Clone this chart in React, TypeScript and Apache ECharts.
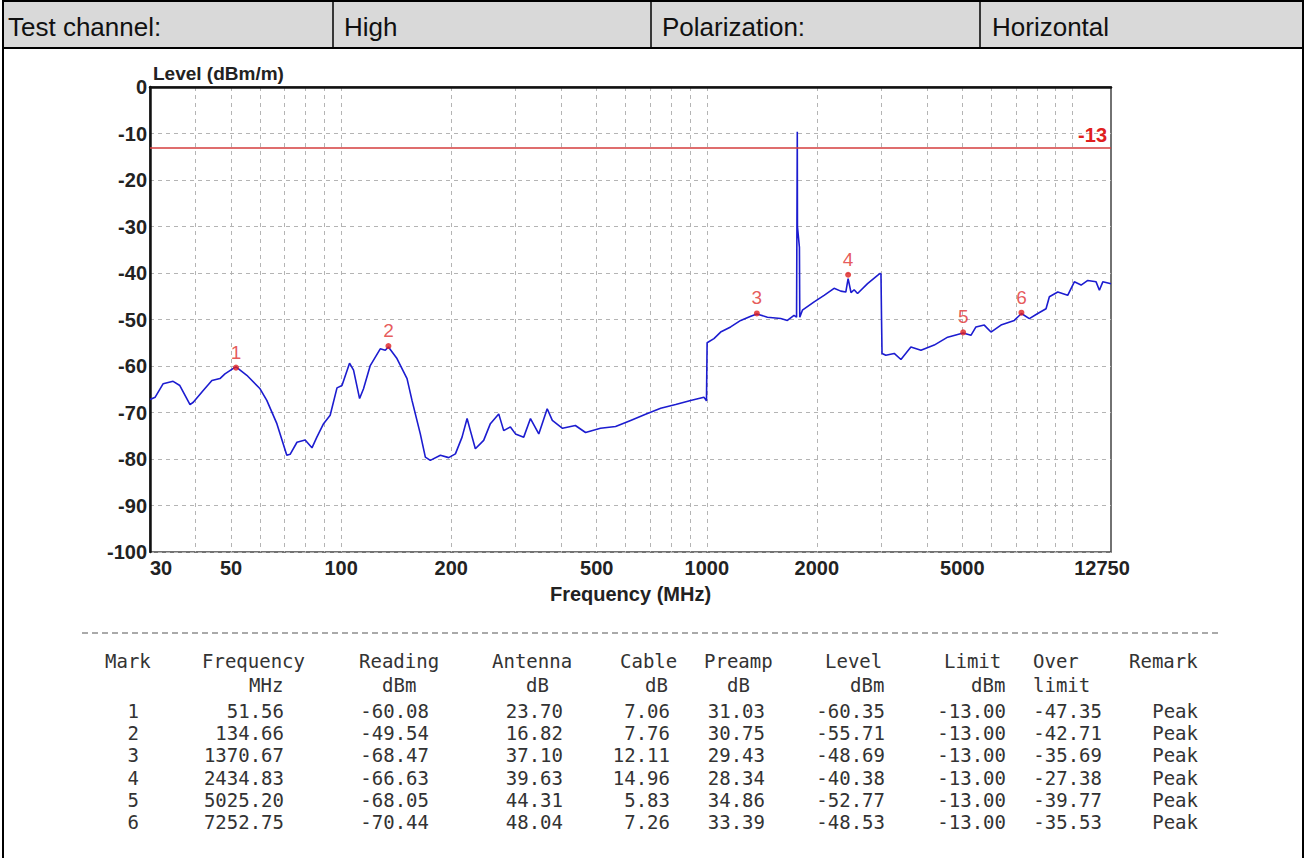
import React, { useEffect, useRef } from 'react';
import * as echarts from 'echarts';

// ---- data ----
const freqMHz = [
  30.0, 31.0, 32.6, 34.7, 36.2, 38.6, 39.4, 42.0, 44.3, 46.6, 48.1, 50.7, 51.56, 55.2, 60.0, 62.6, 66.7, 71.0,
  72.5, 75.7, 79.7, 83.2, 85.8, 89.5, 93.3, 97.4, 100.5, 105.4, 108.1, 112.3, 115.1, 120.1, 127.9, 132.0,
  134.66, 142.1, 151.4, 156.2, 164.6, 169.9, 175.3, 186.8, 196.8, 205.3, 214.1, 221.0, 225.6, 232.8, 245.3,
  255.9, 269.7, 278.3, 290.3, 299.7, 315.7, 329.4, 347.1, 366.0, 378, 403, 437, 466, 512, 563, 619, 680, 748,
  822, 903, 982, 998, 1002, 1046, 1091, 1162, 1238, 1319, 1370.67, 1465, 1593, 1661, 1732, 1760, 1768, 1770,
  1792, 1796, 1826, 1966, 2093, 2229, 2325, 2400, 2434.83, 2480, 2529, 2584, 2752, 2931, 2979, 2995, 3005,
  3015, 3088, 3255, 3396, 3616, 3852, 4188, 4558, 5025.2, 5277, 5447, 5739, 5987, 6376, 6934, 7252.75, 7624,
  8038, 8469, 8649, 9120, 9707, 10122, 10561, 11016, 11607, 11852, 12108, 12750,
];
const levelDbm = [
  -67.2, -66.7, -63.8, -63.3, -64.2, -68.3, -67.8, -65.2, -63.1, -62.7, -61.7, -60.5, -60.2, -62.0, -64.9,
  -67.4, -72.4, -79.2, -79.0, -76.4, -75.9, -77.6, -75.3, -72.4, -70.6, -64.7, -64.2, -59.4, -60.9, -67.0,
  -64.9, -59.9, -56.3, -56.6, -55.9, -58.4, -62.7, -67.4, -74.6, -79.6, -80.3, -79.2, -79.7, -78.9, -75.3,
  -71.3, -73.9, -77.8, -76.0, -72.4, -70.3, -73.9, -73.1, -74.6, -75.3, -71.3, -74.6, -69.2, -71.7, -73.4,
  -72.8, -74.3, -73.4, -73.0, -71.7, -70.4, -69.1, -68.3, -67.4, -66.7, -67.5, -55.0, -54.1, -52.7, -51.6,
  -50.2, -49.3, -48.8, -49.5, -49.8, -50.2, -49.1, -49.5, -9.6, -30.0, -34.5, -49.5, -48.0, -46.2, -44.8,
  -43.3, -43.9, -44.1, -41.2, -44.2, -43.6, -44.4, -42.3, -40.5, -40.1, -40.2, -49.5, -57.3, -57.7, -57.3,
  -58.6, -55.9, -56.6, -55.5, -53.8, -52.9, -53.4, -51.6, -51.2, -52.7, -51.2, -50.2, -48.7, -49.8, -48.7,
  -47.7, -45.1, -44.1, -44.8, -41.9, -42.6, -41.6, -41.9, -43.7, -41.9, -42.3,
];
const markFreq = [51.56, 134.66, 1370.67, 2434.83, 5025.2, 7252.75];
const markLevel = [-60.35, -55.71, -48.69, -40.38, -52.77, -48.53];
const limitDbm = -13;
const freqMin = 30;
const freqMax = 12750;
const xLabelValues = [30, 50, 100, 200, 500, 1000, 2000, 5000, 12750];
const xGridValues = [
  40, 50, 60, 70, 80, 90, 100, 200, 300, 400, 500, 600, 700, 800, 900, 1000, 2000, 3000, 4000, 5000, 6000,
  7000, 8000, 9000, 10000,
];
const yMin = -100;
const yMax = 0;
const yStep = 10;

const headerCells = ['Test channel:', 'High', 'Polarization:', 'Horizontal'];
const tableHead = ['Mark', 'Frequency', 'Reading', 'Antenna', 'Cable', 'Preamp', 'Level', 'Limit', 'Over', 'Remark'];
const tableUnits = ['', 'MHz', 'dBm', 'dB', 'dB', 'dB', 'dBm', 'dBm', 'limit', ''];
const tableRows = [
  ['1', '51.56', '-60.08', '23.70', '7.06', '31.03', '-60.35', '-13.00', '-47.35', 'Peak'],
  ['2', '134.66', '-49.54', '16.82', '7.76', '30.75', '-55.71', '-13.00', '-42.71', 'Peak'],
  ['3', '1370.67', '-68.47', '37.10', '12.11', '29.43', '-48.69', '-13.00', '-35.69', 'Peak'],
  ['4', '2434.83', '-66.63', '39.63', '14.96', '28.34', '-40.38', '-13.00', '-27.38', 'Peak'],
  ['5', '5025.20', '-68.05', '44.31', '5.83', '34.86', '-52.77', '-13.00', '-39.77', 'Peak'],
  ['6', '7252.75', '-70.44', '48.04', '7.26', '33.39', '-48.53', '-13.00', '-35.53', 'Peak'],
];

// ---- layout (positions / styles) ----
const W = 1306;
const H = 858;
const headerLeft = [8, 344, 662, 992];
const headerDividers = [333, 651, 980];
const headLeft = [105, 202, 359, 492, 620, 704, 825, 944, 1033, 1129];
const unitLeft = [0, 249, 382, 526, 645, 727, 850, 971, 1033, 0];
const dataRight = [139, 284, 429, 563, 670, 765, 885, 1006, 1102, 1198];
const headY = 661;
const unitY = 685;
const rowY = [711, 733.2, 755.4, 777.6, 799.8, 822];
const MONO = '"DejaVu Sans Mono", "Liberation Mono", monospace';
const SANS = 'Arial, "Liberation Sans", sans-serif';

export default function App() {
  const ref = useRef<HTMLDivElement>(null);

  useEffect(() => {
    const chart = echarts.init(ref.current!, null, { renderer: 'svg' });
    const lg = (v: number) => Math.log10(v);
    const trace = freqMHz.map((f, i) => [lg(f), levelDbm[i]]);
    const marks = markFreq.map((f, i) => [lg(f), markLevel[i]]);

    const graphics: any[] = [];
    graphics.push({
      type: 'rect',
      shape: { x: 3, y: 1, width: 1300, height: 47 },
      style: { fill: '#d9d9d9', stroke: '#000', lineWidth: 2 },
      silent: true,
    });
    headerDividers.forEach((x) =>
      graphics.push({
        type: 'line',
        shape: { x1: x, y1: 1, x2: x, y2: 48 },
        style: { stroke: '#000', lineWidth: 1.5 },
        silent: true,
      })
    );
    graphics.push({
      type: 'line',
      shape: { x1: 3, y1: 48, x2: 3, y2: H },
      style: { stroke: '#000', lineWidth: 2 },
      silent: true,
    });
    graphics.push({
      type: 'line',
      shape: { x1: 1303, y1: 48, x2: 1303, y2: H },
      style: { stroke: '#000', lineWidth: 2 },
      silent: true,
    });
    headerCells.forEach((t, i) =>
      graphics.push({
        type: 'text',
        x: headerLeft[i],
        y: 27,
        style: { text: t, fontSize: 26, fontFamily: SANS, fill: '#111', align: 'left', verticalAlign: 'middle' },
        silent: true,
      })
    );
    graphics.push({
      type: 'line',
      shape: { x1: 82, y1: 633, x2: 1220, y2: 633 },
      style: { stroke: '#555', lineWidth: 1, lineDash: [6, 4] },
      silent: true,
    });
    const tStyle = (text: string, align: string) => ({
      text,
      fontSize: 19,
      fontFamily: MONO,
      fill: '#333',
      align,
      verticalAlign: 'middle',
    });
    tableHead.forEach((t, i) =>
      graphics.push({ type: 'text', x: headLeft[i], y: headY, style: tStyle(t, 'left'), silent: true })
    );
    tableUnits.forEach((t, i) => {
      if (t) graphics.push({ type: 'text', x: unitLeft[i], y: unitY, style: tStyle(t, 'left'), silent: true });
    });
    tableRows.forEach((row, r) =>
      row.forEach((t, c) =>
        graphics.push({ type: 'text', x: dataRight[c], y: rowY[r], style: tStyle(t, 'right'), silent: true })
      )
    );

    const labelStyle = { color: '#222', fontWeight: 'bold' as const, fontSize: 20, fontFamily: SANS };

    chart.setOption({
      animation: false,
      backgroundColor: '#fff',
      grid: {
        left: 150,
        top: 87,
        width: 961,
        height: 465,
        show: true,
        borderColor: '#444',
        borderWidth: 1.5,
        containLabel: false,
      },
      xAxis: {
        type: 'value',
        min: lg(freqMin),
        max: lg(freqMax),
        name: 'Frequency (MHz)',
        nameLocation: 'middle',
        nameGap: 32,
        nameTextStyle: { ...labelStyle },
        axisLine: { show: true, lineStyle: { color: '#111', width: 2.5 } },
        axisTick: { show: false, customValues: xGridValues.map(lg) },
        axisLabel: {
          ...labelStyle,
          margin: 6,
          customValues: xLabelValues.map(lg),
          alignMinLabel: 'left',
          formatter: (v: number) => {
            const n = Math.round(Math.pow(10, v));
            return n === freqMax ? '{max|' + n + '}' : String(n);
          },
          rich: { max: { ...labelStyle, padding: [0, 18, 0, 0] } },
        },
        splitLine: { show: true, lineStyle: { color: '#b4b4b4', type: [4, 4], width: 1 } },
      },
      yAxis: {
        type: 'value',
        min: yMin,
        max: yMax,
        interval: yStep,
        name: 'Level (dBm/m)',
        nameLocation: 'end',
        nameGap: 4,
        nameTextStyle: { ...labelStyle, fontSize: 19, align: 'left', verticalAlign: 'bottom', padding: [0, 0, 0, 3] },
        axisLine: { show: true, lineStyle: { color: '#111', width: 2.5 } },
        axisTick: { show: false },
        axisLabel: { ...labelStyle, margin: 3 },
        splitLine: { show: true, lineStyle: { color: '#b4b4b4', type: [4, 4], width: 1 } },
      },
      series: [
        {
          type: 'line',
          data: trace,
          showSymbol: false,
          symbol: 'none',
          lineStyle: { color: '#1c1cd0', width: 1.6 },
          z: 3,
          markLine: {
            silent: true,
            symbol: 'none',
            lineStyle: { color: '#d43c3c', width: 1.5, type: 'solid' },
            label: {
              show: true,
              position: 'insideEndTop',
              formatter: String(limitDbm),
              color: '#e02020',
              fontWeight: 'bold',
              fontSize: 20,
              fontFamily: SANS,
              distance: [4, 2],
            },
            data: [{ yAxis: limitDbm }],
          },
        },
        {
          type: 'scatter',
          data: marks,
          symbol: 'circle',
          symbolSize: 6,
          itemStyle: { color: '#e02020' },
          z: 4,
          label: {
            show: true,
            position: 'top',
            distance: 3,
            formatter: (p: any) => String(p.dataIndex + 1),
            color: '#e03030',
            fontSize: 19,
            fontFamily: SANS,
          },
        },
      ],
      graphic: graphics,
    });
    return () => chart.dispose();
  }, []);

  return <div ref={ref} style={{ position: 'absolute', left: 0, top: 0, width: W, height: H }} />;
}
